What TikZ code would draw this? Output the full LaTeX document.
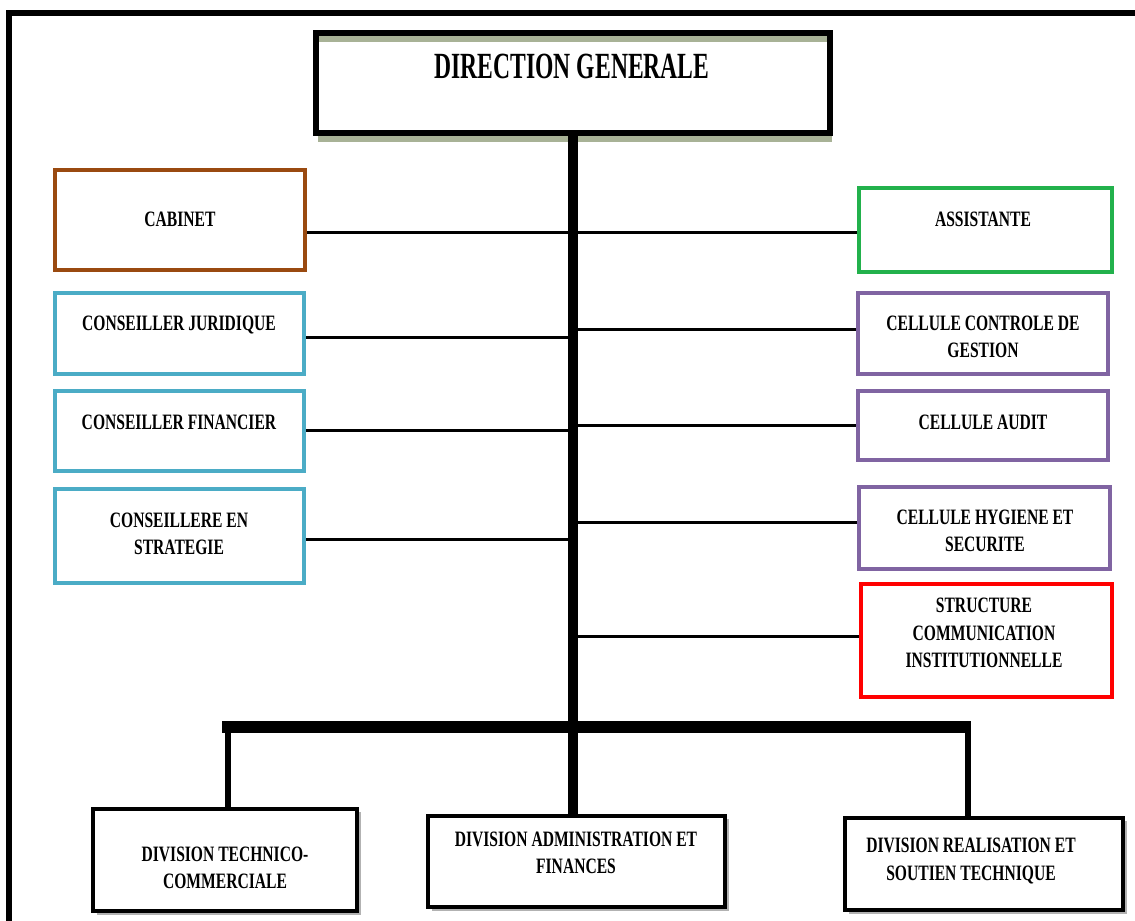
\documentclass[tikz,border=0pt]{standalone}
\usepackage{fontspec}
\setmainfont{Liberation Serif}
\newfontfamily\condfont{Liberation Serif}[FakeStretch=0.71]
\newfontfamily\titlefont{Liberation Serif}[FakeStretch=0.64]
\usetikzlibrary{fit}
\definecolor{cabbrown}{HTML}{9A4A10}
\definecolor{advblue}{HTML}{4BACC6}
\definecolor{asgreen}{HTML}{22B14C}
\definecolor{cellpurple}{HTML}{8064A2}
\definecolor{comred}{HTML}{FF0000}
\definecolor{shadowolive}{HTML}{A8B296}
\tikzset{
  unitbox/.style={draw, fill=white, inner sep=0pt, line width=2.3pt},
  divbox/.style={draw=black, fill=white, inner sep=0pt, line width=2pt},
  lbl/.style={align=center, inner sep=0pt, font=\condfont\bfseries\fontsize{12.5}{15.5}\selectfont},
  conn/.style={line width=1.7pt},
  trunkline/.style={line width=5.2pt},
  barline/.style={line width=7pt},
  dropline/.style={line width=3.4pt},
}
\begin{document}
\begin{tikzpicture}[x=0.02cm,y=-0.02cm]
\useasboundingbox (0,0) rectangle (1135,920);
\fill[white] (0,0) rectangle (1135,920);

% outer frame (top and left edges)
\draw[line width=3.4pt] (9,940) -- (9,13) -- (1140,13);

% head office with its shadow
\draw[shadowolive, line width=3pt] (318,39) -- (832,39);
\draw[shadowolive, line width=3pt] (318,139) -- (832,139);
\node[draw, line width=3.4pt, inner sep=0pt, fit={(316,33) (830,133)}] (dg) {};
\node[inner sep=0pt, font=\titlefont\bfseries\fontsize{21}{24}\selectfont] (dgt) at (572,66) {DIRECTION GENERALE};

% staff units on the left
\node[unitbox, draw=cabbrown, fit={(55,170) (305,270)}] (cab) {};
\node[lbl] (cabt) at (180,219) {CABINET};
\node[unitbox, draw=advblue, fit={(55,293) (304,374)}] (cj) {};
\node[lbl] (cjt) at (179,325) {CONSEILLER JURIDIQUE};
\node[unitbox, draw=advblue, fit={(55,391) (304,471)}] (cf) {};
\node[lbl] (cft) at (179,422) {CONSEILLER FINANCIER};
\node[unitbox, draw=advblue, fit={(55,489) (304,583)}] (cs) {};
\node[lbl] (cst) at (179,534) {CONSEILLERE EN\\STRATEGIE};

% staff units on the right
\node[unitbox, draw=asgreen, fit={(859,188) (1112,272)}] (as) {};
\node[lbl] (ast) at (983,219) {ASSISTANTE};
\node[unitbox, draw=cellpurple, fit={(858,293) (1108,374)}] (cg) {};
\node[lbl] (cgt) at (983,337) {CELLULE CONTROLE DE\\GESTION};
\node[unitbox, draw=cellpurple, fit={(858,391) (1108,460)}] (ca) {};
\node[lbl] (cat) at (983,422) {CELLULE AUDIT};
\node[unitbox, draw=cellpurple, fit={(859,487) (1110,569)}] (ch) {};
\node[lbl] (cht) at (985,531) {CELLULE HYGIENE ET\\SECURITE};
\node[unitbox, draw=comred, fit={(861,584) (1112,697)}] (sc) {};
\node[lbl] (sct) at (984,633) {STRUCTURE\\COMMUNICATION\\INSTITUTIONNELLE};

% operational divisions
\draw[gray!60, line width=2pt] (97,913) -- (359,913) -- (359,812);
\node[divbox, fit={(93,809) (357,911)}] (dtc) {};
\node[lbl] (dtct) at (225,868) {DIVISION TECHNICO-\\COMMERCIALE};
\draw[gray!60, line width=2pt] (432,909) -- (727,909) -- (727,819);
\node[divbox, fit={(428,816) (725,907)}] (daf) {};
\node[lbl] (daft) at (576,853) {DIVISION ADMINISTRATION ET\\FINANCES};
\draw[gray!60, line width=2pt] (849,912) -- (1125,912) -- (1125,821);
\node[divbox, fit={(845,818) (1123,910)}] (drs) {};
\node[lbl] (drst) at (971,861) {DIVISION REALISATION ET\\SOUTIEN TECHNIQUE};

% hierarchy lines
\coordinate (trunk) at (573,133);
\draw[trunkline] (dg.south -| trunk) -- (trunk |- daf.north);
\draw[conn] (cab.east |- 0,232) -- (as.west |- 0,232);
\draw[conn] (cj.east |- 0,337) -- (trunk |- 0,337);
\draw[conn] (cf.east |- 0,430) -- (trunk |- 0,430);
\draw[conn] (cs.east |- 0,539) -- (trunk |- 0,539);
\draw[conn] (trunk |- 0,329) -- (cg.west |- 0,329);
\draw[conn] (trunk |- 0,425) -- (ca.west |- 0,425);
\draw[conn] (trunk |- 0,522) -- (ch.west |- 0,522);
\draw[conn] (trunk |- 0,636) -- (sc.west |- 0,636);
\coordinate (barL) at (222,727);
\coordinate (barR) at (971,727);
\coordinate (dropL) at (228,722);
\coordinate (dropR) at (968,722);
\draw[barline] (barL) -- (barR);
\draw[dropline] (dropL) -- (dropL |- dtc.north);
\draw[dropline] (dropR) -- (dropR |- drs.north);
\end{tikzpicture}
\end{document}
